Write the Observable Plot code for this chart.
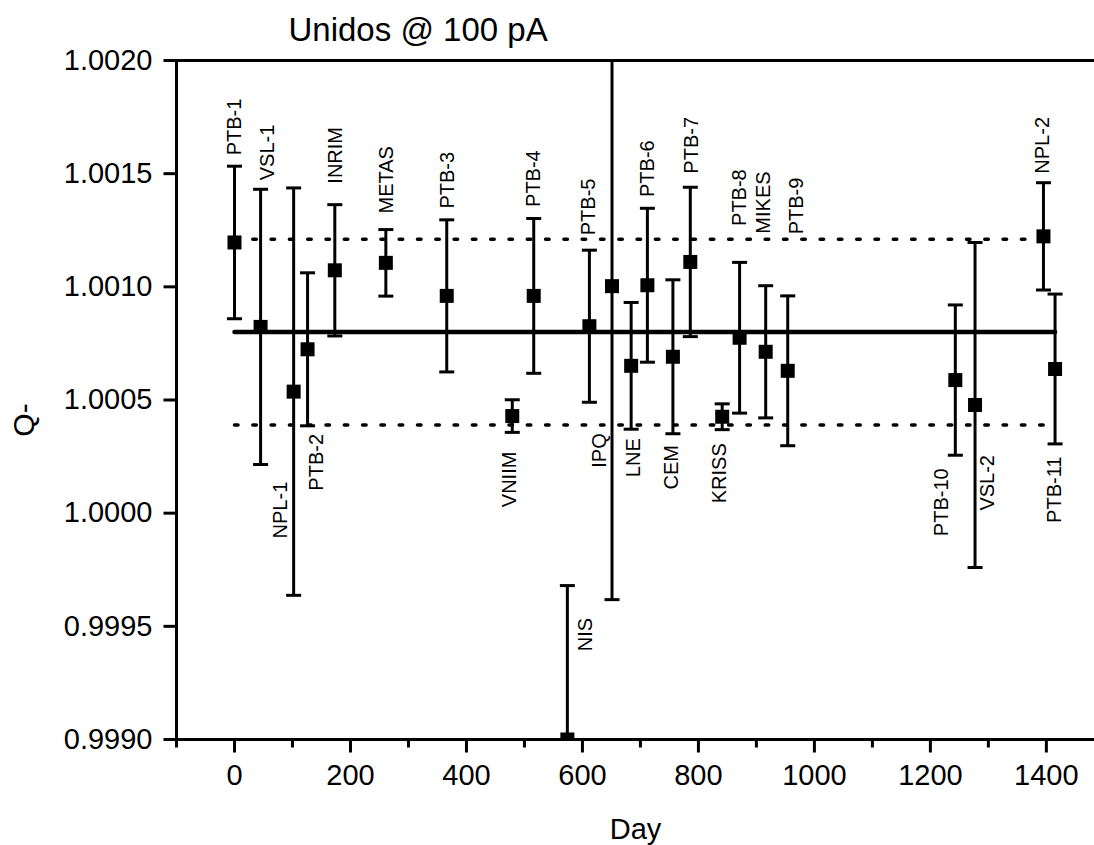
<!DOCTYPE html>
<html><head><meta charset="utf-8">
<script src="https://cdn.jsdelivr.net/npm/d3@7"></script>
<script src="https://cdn.jsdelivr.net/npm/@observablehq/plot@0.6"></script>
<style>body{margin:0;background:#fff;} #chart svg{display:block}</style>
</head><body><div id="chart"></div>
<script>
// ---- data ----
const labs   = ["PTB-1","VSL-1","NPL-1","PTB-2","INRIM","METAS","PTB-3","VNIIM","PTB-4","NIS","PTB-5","IPQ","LNE","PTB-6","CEM","PTB-7","KRISS","PTB-8","MIKES","PTB-9","PTB-10","VSL-2","NPL-2","PTB-11"];
const days   = [0, 45, 102, 126, 173, 261, 366, 479, 516, 574, 612, 651, 684, 712, 756, 786, 841, 871, 916, 954, 1243, 1277, 1395, 1415];
const qValues= [1.001196, 1.000823, 1.000537, 1.000724, 1.001073, 1.001106, 1.000960, 1.000429, 1.000960, 0.999000, 1.000826, 1.001003, 1.000651, 1.001007, 1.000691, 1.001110, 1.000426, 1.000775, 1.000713, 1.000629, 1.000588, 1.000478, 1.001223, 1.000637];
const qErrors= [0.000337, 0.000608, 0.000900, 0.000338, 0.000290, 0.000147, 0.000336, 0.000072, 0.000342, 0.000680, 0.000336, 0.001385, 0.000280, 0.000340, 0.000340, 0.000330, 0.000057, 0.000333, 0.000292, 0.000331, 0.000332, 0.000718, 0.000237, 0.000331];
// label annotation anchors (in data units) and side of the bar
const labelSide = ["above","above","below","below","above","above","above","below","above","below","above","below","below","above","below","above","below","above","above","above","below","below","above","below"];
const labelDay  = [0, 57, 79, 141, 175, 262, 367, 475, 516, 605, 611, 630, 689, 712, 753, 789, 837, 871, 912, 969, 1220, 1298, 1394, 1415];
const labelQ    = [1.001581, 1.001471, 1.000139, 1.000350, 1.001456, 1.001324, 1.001346, 1.000272, 1.001353, 0.999537, 1.001228, 1.000353, 1.000331, 1.001397, 1.000301, 1.001500, 1.000309, 1.001269, 1.001235, 1.001232, 1.000198, 1.000257, 1.001500, 1.000250];
// reference lines
const meanQ = 1.00080, upperQ = 1.00121, lowerQ = 1.00039;
const meanDays = [0, 1415];
const bandDays = [0, 1395];
// axes
const xDomain = [-100, 1483];
const yDomain = [0.9990, 1.0020];
const yTicks = [0.9990, 0.9995, 1.0000, 1.0005, 1.0010, 1.0015, 1.0020];
const yTickLabels = ["0.9990","0.9995","1.0000","1.0005","1.0010","1.0015","1.0020"];
const xTicks = [0, 200, 400, 600, 800, 1000, 1200, 1400];
const xTickLabels = ["0","200","400","600","800","1000","1200","1400"];
const xMinorTicks = [-100, 100, 300, 500, 700, 900, 1100, 1300];
const titleText = "Unidos @ 100 pA";
const xLabel = "Day";
const yLabel = "Q-";

// ---- build ----
const rows = labs.map((name, i) => ({name, day: days[i], q: qValues[i], e: qErrors[i], side: labelSide[i], ld: labelDay[i], lq: labelQ[i]}));
const caps = rows.flatMap(d => [{day: d.day, q: d.q + d.e}, {day: d.day, q: d.q - d.e}]);
const meanLine = meanDays.map(d => ({day: d, q: meanQ}));
const upLine = bandDays.map(d => ({day: d, q: upperQ}));
const loLine = bandDays.map(d => ({day: d, q: lowerQ}));

const capSym = {draw(ctx){ ctx.moveTo(-7.5, 0); ctx.lineTo(7.5, 0); }};
const yTickSym = {draw(ctx){ ctx.moveTo(-13, 0); ctx.lineTo(0, 0); }};
const xMajorSym = {draw(ctx){ ctx.moveTo(0, 0); ctx.lineTo(0, 13); }};
const xMinorSym = {draw(ctx){ ctx.moveTo(0, 0); ctx.lineTo(0, 8); }};

const font = "'Liberation Sans', Arial, Helvetica, sans-serif";

const chart = Plot.plot({
  width: 1094,
  height: 845,
  marginTop: 60,
  marginBottom: 106,
  marginLeft: 176,
  marginRight: 0,
  style: {fontFamily: font, background: "white", color: "black"},
  x: {domain: xDomain, axis: null},
  y: {domain: yDomain, axis: null},
  marks: [
    // reference lines
    Plot.line(upLine, {x: "day", y: "q", stroke: "black", strokeWidth: 3.5, strokeDasharray: "3.5 14.8"}),
    Plot.line(loLine, {x: "day", y: "q", stroke: "black", strokeWidth: 3.5, strokeDasharray: "3.5 14.8"}),
    Plot.line(meanLine, {x: "day", y: "q", stroke: "black", strokeWidth: 4.5}),
    // error bars
    Plot.ruleX(rows, {x: "day", y1: d => d.q - d.e, y2: d => d.q + d.e, stroke: "black", strokeWidth: 3, clip: true}),
    Plot.dot(caps, {x: "day", y: "q", symbol: capSym, r: 5, stroke: "black", fill: "none", strokeWidth: 3, clip: true}),
    Plot.dot(rows, {x: "day", y: "q", symbol: "square", r: 7.9, fill: "black", stroke: "none", clip: true}),
    // point labels
    Plot.text(rows.filter(d => d.side === "above"), {x: "ld", y: "lq", text: "name", rotate: -90, textAnchor: "start", lineAnchor: "middle", fontSize: 20, fill: "black"}),
    Plot.text(rows.filter(d => d.side === "below"), {x: "ld", y: "lq", text: "name", rotate: -90, textAnchor: "end", lineAnchor: "middle", fontSize: 20, fill: "black"}),
    // frame
    Plot.ruleY([yDomain[1], yDomain[0]], {stroke: "black", strokeWidth: 3}),
    Plot.ruleX([xDomain[0]], {stroke: "black", strokeWidth: 3}),
    // axes ticks
    Plot.dot(yTicks, {y: d => d, frameAnchor: "left", symbol: yTickSym, r: 5, stroke: "black", fill: "none", strokeWidth: 3}),
    Plot.dot(xTicks, {x: d => d, frameAnchor: "bottom", symbol: xMajorSym, r: 5, stroke: "black", fill: "none", strokeWidth: 3}),
    Plot.dot(xMinorTicks, {x: d => d, frameAnchor: "bottom", symbol: xMinorSym, r: 5, stroke: "black", fill: "none", strokeWidth: 3}),
    Plot.text(yTicks, {y: d => d, text: (d, i) => yTickLabels[i], frameAnchor: "left", dx: -24, textAnchor: "end", lineAnchor: "middle", fontSize: 29, fill: "black"}),
    Plot.text(xTicks, {x: d => d, text: (d, i) => xTickLabels[i], frameAnchor: "bottom", dy: 36, textAnchor: "middle", lineAnchor: "middle", fontSize: 29, fill: "black"}),
    // axis titles and title
    Plot.text([xLabel], {frameAnchor: "bottom", dy: 90, textAnchor: "middle", lineAnchor: "middle", fontSize: 29, fill: "black"}),
    Plot.text([yLabel], {frameAnchor: "left", dx: -152, dy: 20, rotate: -90, textAnchor: "middle", lineAnchor: "middle", fontSize: 30, fill: "black"}),
    Plot.text([titleText], {frameAnchor: "top-left", dx: 112, dy: -30, textAnchor: "start", lineAnchor: "middle", fontSize: 33, fill: "black"})
  ]
});
document.getElementById("chart").appendChild(chart);
</script>
</body></html>
